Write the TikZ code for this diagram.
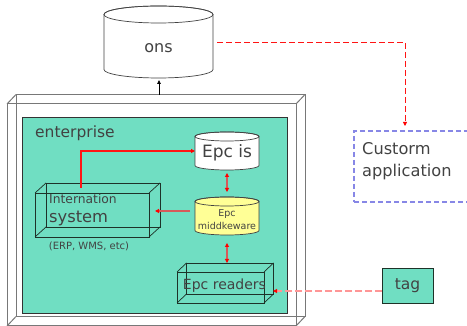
\documentclass[tikz,border=0pt]{standalone}
\usepackage{fontspec}
\setmainfont{DejaVu Sans}
\usetikzlibrary{arrows.meta,calc}

\definecolor{tealfill}{RGB}{112,222,194}
\definecolor{mwyellow}{RGB}{255,255,150}
\definecolor{ink}{RGB}{66,66,66}
\definecolor{boxline}{RGB}{30,50,40}
\definecolor{framegray}{RGB}{120,120,120}
\definecolor{linkred}{RGB}{255,20,20}
\definecolor{linkbrown}{RGB}{215,90,90}
\definecolor{palered}{RGB}{255,150,150}
\definecolor{appblue}{RGB}{135,135,230}

% back face and depth edges of a wire-frame box whose front face is node #1
\newcommand\wireback[3]{%
  \draw ([shift={(#2,#3)}]#1.south west) rectangle ([shift={(#2,#3)}]#1.north east);
  \foreach \c in {north west,north east,south west,south east}
    \draw (#1.\c) -- ([shift={(#2,#3)}]#1.\c);
}
% upright cylinder drawn round node #1 (full extent), radii #2, #3
\newcommand\drum[4]{%
  \filldraw[fill=#4] ([yshift=-#3]#1.north west) -- ([yshift=#3]#1.south west)
    arc[start angle=180, end angle=360, x radius=#2, y radius=#3]
    -- ([yshift=-#3]#1.north east)
    arc[start angle=0, end angle=180, x radius=#2, y radius=#3] -- cycle;
  \draw ([yshift=-#3]#1.north) ellipse[x radius=#2, y radius=#3];
}

\begin{document}
\begin{tikzpicture}[x=1pt,y=1pt,
  area/.style={inner sep=0, outer sep=0, minimum width=#1},
  txt/.style={inner sep=0, text=ink},
  tipred/.style={-{Triangle[length=4pt,width=4pt,color=red]}},
  tipboth/.style={{Triangle[length=4pt,width=4pt,color=red]}-{Triangle[length=4pt,width=4pt,color=red]}},
  tipblack/.style={-{Triangle[length=4pt,width=3.5pt]}},
  cylline/.style={draw=ink, line width=0.7pt},
  wire/.style={draw=boxline, line width=0.7pt}]
\useasboundingbox (0,0) rectangle (467,326);
\clip (0,0) rectangle (467,326);

% enterprise frame (front face) and its depth
\node[area=289, minimum height=222] (frame) at (151.5,111) {};
\begin{scope}[draw=framegray, line width=1pt]
  \draw (frame.south west) rectangle (frame.north east);
  \wireback{frame}{9}{9.5}
\end{scope}

% enterprise area
\node[area=265, minimum height=196, draw=black!80, line width=0.8pt, fill=tealfill] (ent) at (154.5,111) {};
\node[txt, anchor=west, font=\fontsize{15.5}{18}\selectfont] (entlabel) at (35,193) {enterprise};

% ons
\node[area=109, minimum height=72] (ons) at (158.5,284) {};
\begin{scope}[cylline]\drum{ons}{54.5}{8.5}{white}\end{scope}
\node[txt, font=\fontsize{16}{19}\selectfont] (onslabel) at (158.5,278) {ons};

% Epc is
\node[area=64, minimum height=38] (epcis) at (227,175) {};
\begin{scope}[cylline]\drum{epcis}{32}{4.5}{white}\end{scope}
\node[txt, font=\fontsize{17}{20}\selectfont] (epcislabel) at (227,173.5) {Epc is};

% Epc middkeware
\node[area=64, minimum height=38] (mw) at (227,110) {};
\begin{scope}[cylline]\drum{mw}{32}{4.5}{mwyellow}\end{scope}
\node[txt, align=center, font=\fontsize{9.5}{13}\selectfont] (mwlabel) at (227,106.5) {Epc\\middkeware};

% Internation system
\node[area=114, minimum height=44] (isys) at (92,111) {};
\begin{scope}[wire]
  \draw (isys.south west) rectangle (isys.north east);
  \wireback{isys}{11}{10}
\end{scope}
\node[txt, anchor=west, font=\fontsize{12.3}{15}\selectfont] (isysl1) at (49,127) {Internation};
\node[txt, anchor=west, font=\fontsize{16.3}{19}\selectfont] (isysl2) at (49,108) {system};
\node[txt, font=\fontsize{10}{12}\selectfont] (isysnote) at (89,80) {(ERP, WMS, etc)};

% Epc readers
\node[area=87, minimum height=31] (readers) at (220.5,38.5) {};
\begin{scope}[wire]
  \draw (readers.south west) rectangle (readers.north east);
  \wireback{readers}{9.5}{9}
\end{scope}
\node[txt, font=\fontsize{14}{17}\selectfont] (readerslabel) at (224.5,40) {Epc readers};
\coordinate (rdtop) at ([yshift=9]readers.north);

% tag
\node[area=51, minimum height=35, draw=boxline, line width=0.8pt, fill=tealfill,
      txt, font=\fontsize{15.5}{18}\selectfont] (tag) at (407.5,40.5) {tag};

% Custorm application
\node[area=126, minimum height=71, draw=appblue, line width=1.2pt,
      dash pattern=on 5pt off 3pt] (app) at (417,159.5) {};
\node[txt, anchor=west, align=left, font=\fontsize{16.2}{22}\selectfont] (applabel) at (362,165) {Custorm\\application};

% connectors
\coordinate (up) at (159,231);
\draw[tipblack, line width=0.8pt, shorten >=2pt] (up) -- (up |- ons.south);
\draw[draw=linkred, line width=1.1pt, tipred] ([xshift=-11,yshift=5]isys.north) |- (epcis.west);
\draw[draw=linkbrown, line width=1.1pt, tipred] ([shift={(-5,5)}]mw.west) -- ([shift={(6,4)}]isys.east);
\draw[draw=linkbrown, line width=1.1pt, tipboth, shorten <=3pt, shorten >=5pt] (epcis.south) -- (mw.north);
\draw[draw=linkbrown, line width=1.1pt, tipboth, shorten <=8pt] (mw.south) -- (mw.south |- rdtop);
\draw[draw=palered, line width=1.6pt, dash pattern=on 7pt off 3pt, tipred] ([yshift=-5.5]tag.west) -- ([xshift=9,yshift=-3.5]readers.east);
\draw[draw=linkred, line width=0.9pt, dash pattern=on 6pt off 3pt, tipred, shorten >=5pt]
  ([xshift=4]ons.east) -| ([xshift=51]app.north west);
\end{tikzpicture}
\end{document}
